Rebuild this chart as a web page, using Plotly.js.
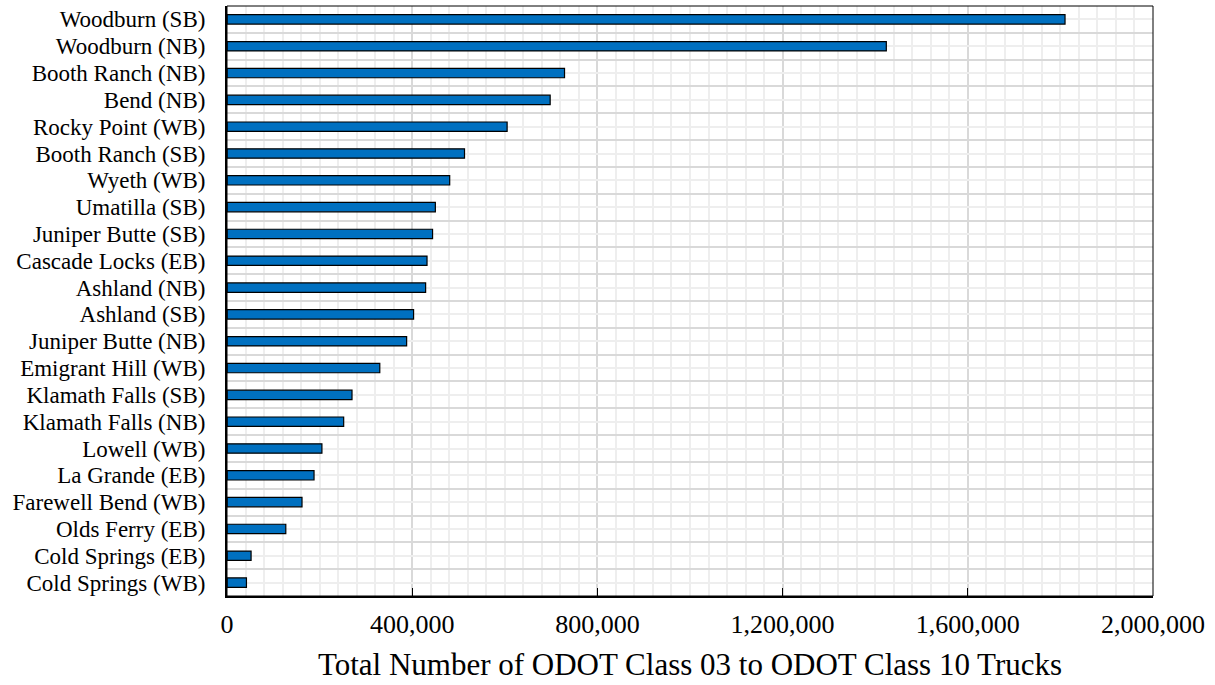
<!DOCTYPE html>
<html>
<head>
<meta charset="utf-8">
<script src="https://cdn.plot.ly/plotly-3.0.1.min.js"></script>
<style>html,body{margin:0;padding:0;background:#fff;}#chart{width:1215px;height:685px;}</style>
</head>
<body>
<div id="chart"></div>
<script>
const categories = [
  "Woodburn (SB)", "Woodburn (NB)", "Booth Ranch (NB)", "Bend (NB)", "Rocky Point (WB)",
  "Booth Ranch (SB)", "Wyeth (WB)", "Umatilla (SB)", "Juniper Butte (SB)", "Cascade Locks (EB)",
  "Ashland (NB)", "Ashland (SB)", "Juniper Butte (NB)", "Emigrant Hill (WB)", "Klamath Falls (SB)",
  "Klamath Falls (NB)", "Lowell (WB)", "La Grande (EB)", "Farewell Bend (WB)", "Olds Ferry (EB)",
  "Cold Springs (EB)", "Cold Springs (WB)"
];
const truckTotals = [
  1810000, 1424000, 729000, 698000, 605000,
  513000, 481000, 450000, 444000, 432000,
  429000, 403000, 388000, 330000, 270000,
  252000, 205000, 188000, 162000, 127000,
  52000, 42000
];
const xTickStep = 400000;
const xMax = 2000000;
const xTitle = "Total Number of ODOT Class 03 to ODOT Class 10 Trucks";

const positions = categories.map((c, i) => i);
const serif = "Liberation Serif, Times New Roman, serif";

const trace = {
  type: "bar",
  orientation: "h",
  x: truckTotals,
  y: positions,
  width: 0.35,
  marker: { color: "#0070C0", line: { color: "#000000", width: 1.2 } },
  hoverinfo: "x+text",
  text: categories,
  textposition: "none"
};

const layout = {
  width: 1215,
  height: 685,
  margin: { l: 227, r: 62, t: 6, b: 89 },
  paper_bgcolor: "#ffffff",
  plot_bgcolor: "#ffffff",
  showlegend: false,
  bargap: 0,
  xaxis: {
    range: [0, xMax],
    tick0: 0,
    dtick: xTickStep,
    tickformat: ",d",
    showgrid: true,
    gridcolor: "#d9d9d9",
    gridwidth: 2,
    minor: { dtick: xTickStep / 10, tick0: 0, showgrid: true, gridcolor: "#eeeeee", gridwidth: 2, ticks: "" },
    ticks: "inside",
    ticklen: 8,
    tickwidth: 1,
    tickcolor: "#000000",
    ticklabelstandoff: 4,
    showline: true,
    linecolor: "#000000",
    linewidth: 2,
    zeroline: false,
    tickfont: { family: serif, size: 26, color: "#000000" },
    title: { text: xTitle, font: { family: serif, size: 31, color: "#000000" }, standoff: 15 },
    automargin: false,
    fixedrange: true
  },
  yaxis: {
    range: [categories.length - 0.5, -0.5],
    tickmode: "array",
    tickvals: positions,
    ticktext: categories,
    showgrid: true,
    gridcolor: "#eeeeee",
    gridwidth: 2,
    minor: { tickmode: "linear", tick0: 0.5, dtick: 1, showgrid: true, gridcolor: "#d9d9d9", gridwidth: 2, ticks: "" },
    ticks: "",
    ticklabelstandoff: 15,
    showline: true,
    linecolor: "#000000",
    linewidth: 2,
    zeroline: false,
    tickfont: { family: serif, size: 23, color: "#000000" },
    automargin: false,
    fixedrange: true
  },
  shapes: [
    { type: "rect", xref: "paper", yref: "paper", x0: 0, x1: 1, y0: 0, y1: 1,
      line: { color: "#000000", width: 1 }, fillcolor: "rgba(0,0,0,0)", layer: "above" }
  ]
};

Plotly.newPlot("chart", [trace], layout, { displayModeBar: false, staticPlot: true });
</script>
</body>
</html>
